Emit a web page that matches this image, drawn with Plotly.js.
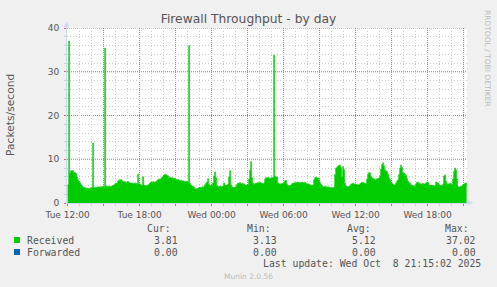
<!DOCTYPE html>
<html>
<head>
<meta charset="utf-8">
<script src="https://cdn.plot.ly/plotly-3.0.1.min.js"></script>
<style>
html,body{margin:0;padding:0;background:#F0F0F0;}
#chart{width:497px;height:287px;}
</style>
</head>
<body>
<div id="chart"></div>
<script>
// ---------- data ----------
const chartTitle = 'Firewall Throughput - by day';
const yTitle = 'Packets/second';
const startTime = '2025-10-07 12:00';   // first sample
const stepMinutes = 5;                   // sample spacing
const xRange = ['2025-10-07 11:57', '2025-10-08 21:17'];
const yRange = [0, 40];

// Received packets/second, one value per 5-minute sample (Tue 12:00 .. Wed 21:15)
const received = [
  4.2, 37.02, 6.8, 7.4, 7.3, 7.4, 7.0, 6.9, 6.8, 6.0, 5.4, 4.9, 4.6, 4.3, 3.9, 3.7, 3.6, 3.5, 3.4, 3.4,
  3.3, 3.4, 3.3, 3.5, 3.6, 13.7, 3.5, 3.6, 3.5, 3.6, 3.7, 3.6, 3.7, 3.6, 3.8, 3.7, 3.6, 35.4, 3.9, 3.8,
  3.8, 3.9, 3.7, 3.8, 3.9, 4.0, 4.1, 4.4, 4.6, 4.5, 5.0, 5.3, 5.2, 5.4, 5.1, 4.9, 4.8, 4.9, 4.7, 4.8,
  4.9, 4.7, 4.6, 4.5, 4.6, 4.5, 4.4, 4.6, 4.5, 4.3, 6.6, 4.4, 4.3, 4.2, 4.0, 6.0, 4.1, 4.0, 3.9, 4.0,
  4.1, 4.3, 4.6, 4.8, 4.7, 4.9, 4.8, 4.7, 4.9, 5.1, 5.3, 5.5, 5.4, 5.6, 5.9, 6.1, 6.4, 6.6, 6.5, 6.3,
  6.2, 5.8, 5.9, 5.7, 5.8, 5.6, 5.7, 5.5, 5.4, 5.3, 5.4, 5.2, 5.1, 5.2, 5.0, 5.1, 4.9, 5.0, 4.9, 5.0,
  4.8, 36.0, 4.5, 4.1, 3.9, 3.8, 3.6, 3.4, 3.13, 3.3, 3.4, 3.5, 3.6, 3.5, 3.7, 3.6, 3.8, 4.2, 4.5, 4.8,
  5.6, 4.3, 4.0, 4.1, 4.0, 4.6, 6.2, 7.1, 5.8, 4.0, 3.8, 3.7, 3.9, 3.8, 3.7, 3.9, 4.6, 4.2, 4.0, 4.1,
  4.3, 6.0, 7.4, 4.2, 3.7, 3.6, 3.5, 3.6, 3.8, 4.3, 4.6, 4.5, 4.7, 4.4, 4.5, 4.3, 4.4, 4.1, 4.0, 4.1,
  4.2, 5.5, 7.5, 9.5, 5.8, 4.5, 4.3, 4.4, 4.6, 4.5, 4.7, 4.6, 4.8, 4.6, 4.5, 4.4, 4.6, 5.5, 5.8, 5.7,
  5.9, 5.8, 5.6, 5.7, 5.9, 5.8, 33.8, 6.1, 6.0, 5.9, 4.6, 4.4, 4.3, 4.4, 4.5, 4.4, 4.6, 5.1, 5.2, 4.3,
  4.0, 3.9, 4.0, 4.1, 4.4, 4.5, 4.6, 4.7, 4.6, 4.8, 4.7, 4.8, 4.6, 4.7, 4.8, 4.7, 4.6, 4.8, 4.5, 4.4,
  4.4, 4.3, 4.2, 4.0, 4.1, 4.0, 5.3, 5.8, 5.9, 5.7, 5.8, 5.4, 4.6, 4.3, 4.0, 3.8, 3.7, 3.8, 3.7, 3.6,
  3.7, 3.6, 3.5, 3.6, 3.5, 3.5, 3.6, 6.5, 8.0, 8.2, 8.4, 8.7, 8.6, 8.1, 6.0, 8.3, 7.6, 4.5, 3.9, 3.8,
  3.7, 3.8, 3.9, 4.3, 4.4, 4.5, 4.3, 4.4, 4.2, 4.3, 4.1, 4.2, 4.4, 4.6, 4.7, 4.8, 4.6, 4.5, 4.4, 5.5,
  6.6, 7.0, 6.9, 6.2, 5.8, 5.6, 5.5, 5.3, 5.4, 5.6, 5.5, 5.7, 6.2, 7.8, 8.8, 9.2, 8.5, 7.6, 7.4, 7.2,
  6.6, 5.8, 5.4, 4.8, 4.5, 4.3, 4.1, 4.2, 4.6, 5.0, 5.3, 6.5, 8.0, 8.7, 8.1, 7.0, 6.8, 6.6, 6.3, 5.6,
  5.0, 4.7, 4.5, 4.2, 4.0, 3.9, 4.0, 3.8, 4.4, 4.8, 4.7, 4.6, 4.4, 4.3, 4.4, 4.5, 4.3, 4.4, 4.6, 4.8,
  4.7, 4.2, 4.0, 4.1, 4.0, 4.1, 3.9, 4.0, 4.8, 4.7, 4.6, 4.2, 4.0, 4.1, 3.9, 4.3, 6.2, 6.4, 5.0, 4.3,
  4.4, 4.3, 4.5, 4.4, 4.2, 5.5, 7.2, 8.0, 7.6, 5.5, 3.8, 3.6, 3.7, 3.8, 3.9, 4.2, 4.3, 4.5, 4.6, 3.81
];
// Forwarded packets/second: zero throughout
const forwarded = received.map(() => 0);

// x ticks (major grid every 3h, labels every 6h)
const xTickVals = ['2025-10-07 12:00','2025-10-07 15:00','2025-10-07 18:00','2025-10-07 21:00',
  '2025-10-08 00:00','2025-10-08 03:00','2025-10-08 06:00','2025-10-08 09:00',
  '2025-10-08 12:00','2025-10-08 15:00','2025-10-08 18:00','2025-10-08 21:00'];
const xTickText = ['Tue 12:00','','Tue 18:00','','Wed 00:00','','Wed 06:00','','Wed 12:00','','Wed 18:00',''];
const yTickVals = [0, 10, 20, 30, 40];
const yTickText = ['0', '10', '20', '30', '40'];
const yMinorVals = [2, 4, 6, 8, 12, 14, 16, 18, 22, 24, 26, 28, 32, 34, 36, 38];

// legend table
const seriesNames = ['Received', 'Forwarded'];
const seriesColors = ['#00CC00', '#0066B3'];
const statHeaders = ['Cur:', 'Min:', 'Avg:', 'Max:'];
const statReceived = ['3.81', '3.13', '5.12', '37.02'];
const statForwarded = ['0.00', '0.00', '0.00', '0.00'];
const lastUpdate = 'Last update: Wed Oct  8 21:15:02 2025';
const footer = 'Munin 2.0.56';
const sideText = 'RRDTOOL / TOBI OETIKER';

// ---------- build x times ----------
function pad(n){ return (n < 10 ? '0' : '') + n; }
function fmt(ms){
  const d = new Date(ms);
  return d.getUTCFullYear()+'-'+pad(d.getUTCMonth()+1)+'-'+pad(d.getUTCDate())+' '+pad(d.getUTCHours())+':'+pad(d.getUTCMinutes());
}
function parse(s){
  const p = s.split(/[- :]/).map(Number);
  return Date.UTC(p[0], p[1]-1, p[2], p[3], p[4]);
}
const base = parse(startTime);
const times = received.map((_, i) => fmt(base + i*stepMinutes*60000));
// minor (hourly) grid positions, skipping the 3-hourly major ones
const xMinorVals = [];
for (let h = 1; h <= 33; h++) if (h % 3 !== 0) xMinorVals.push(fmt(base + h*3600000));

// ---------- layout helpers (page pixels -> paper coords) ----------
const L = 67, R = 30, T = 28, B = 84, W = 497, H = 287;
const PW = W - L - R, PH = H - T - B;
const px = x => (x - L) / PW;
const py = y => (H - B - y) / PH;

const fontSans = 'DejaVu Sans, Verdana, sans-serif';
const fontMono = 'DejaVu Sans Mono, monospace';
const txtColor = '#555555';
const majorGrid = 'rgb(222,95,95)';
const minorGrid = 'rgb(205,205,205)';
const axisColor = '#CFD6F8';
const dots = '1px,2px';
const majorDots = '1px,1px';

const traces = [
  { x: times, y: received, name: seriesNames[0], type: 'scatter', mode: 'lines',
    line: { shape: 'hv', width: 0.5, color: seriesColors[0] },
    fill: 'tozeroy', fillcolor: seriesColors[0], hoverinfo: 'skip' },
  { x: times, y: forwarded, name: seriesNames[1], type: 'scatter', mode: 'lines',
    line: { shape: 'hv', width: 0, color: seriesColors[1] },
    fill: 'tozeroy', fillcolor: seriesColors[1], hoverinfo: 'skip' }
];

const annotations = [];
function ann(text, x, y, xanchor, font, extra){
  annotations.push(Object.assign({ text, x: px(x), y: py(y), xref: 'paper', yref: 'paper',
    xanchor, yanchor: 'middle', showarrow: false, font, borderpad: 0 }, extra || {}));
}
const legFont = { family: fontMono, size: 9.8, color: txtColor };
const colRight = [172, 272, 372, 470];
const valRight = [179, 278, 377, 477];
statHeaders.forEach((h, i) => ann(h, colRight[i], 228, 'right', legFont));
ann(seriesNames[0], 26, 240, 'left', legFont);
ann(seriesNames[1], 26, 252, 'left', legFont);
statReceived.forEach((v, i) => ann(v, valRight[i], 240, 'right', legFont));
statForwarded.forEach((v, i) => ann(v, valRight[i], 252, 'right', legFont));
ann(lastUpdate, 482, 263, 'right', legFont);
ann(footer, 248, 276, 'center', { family: fontSans, size: 7.5, color: '#BBBBBB' });
ann(sideText, 487, 58, 'center', { family: fontSans, size: 7.5, color: '#BBBBBB' }, { textangle: 90 });
ann(yTitle, 10, 115, 'center', { family: fontSans, size: 10.7, color: txtColor }, { textangle: -90 });

const shapes = [
  // legend swatches
  { type: 'rect', xref: 'paper', yref: 'paper', x0: px(14), x1: px(20), y0: py(243), y1: py(237),
    fillcolor: seriesColors[0], line: { width: 0 } },
  { type: 'rect', xref: 'paper', yref: 'paper', x0: px(14), x1: px(20), y0: py(255), y1: py(249),
    fillcolor: seriesColors[1], line: { width: 0 } },
  // axis arrows
  { type: 'path', xref: 'paper', yref: 'paper',
    path: `M ${px(64)} ${py(26.7)} L ${px(66.7)} ${py(21.5)} L ${px(69.4)} ${py(26.7)} Z`,
    fillcolor: axisColor, line: { width: 0 } },
  { type: 'line', xref: 'paper', yref: 'paper', x0: px(66.7), x1: px(66.7), y0: 1, y1: py(26),
    line: { color: axisColor, width: 1 } },
  { type: 'path', xref: 'paper', yref: 'paper',
    path: `M ${px(467.5)} ${py(200.2)} L ${px(473.5)} ${py(202.7)} L ${px(467.5)} ${py(205.2)} Z`,
    fillcolor: axisColor, line: { width: 0 } }
];
// major (red dotted) grid lines at the major tick positions
xTickVals.slice(1).forEach(v => shapes.push({ type: 'line', xref: 'x', yref: 'y', x0: v, x1: v, y0: yRange[0], y1: yRange[1],
  layer: 'below', line: { color: majorGrid, width: 1, dash: majorDots } }));
yTickVals.slice(1).forEach(v => shapes.push({ type: 'line', xref: 'x', yref: 'y', x0: xRange[0], x1: xRange[1], y0: v, y1: v,
  layer: 'below', line: { color: majorGrid, width: 1, dash: majorDots } }));

const layout = {
  width: W, height: H,
  margin: { l: L, r: R, t: T, b: B, pad: 0 },
  paper_bgcolor: '#F0F0F0', plot_bgcolor: '#FFFFFF',
  showlegend: false,
  title: { text: chartTitle, x: 0.5, xref: 'container', xanchor: 'center',
    y: 1 - 18.5 / H, yref: 'container', yanchor: 'middle',
    font: { family: fontSans, size: 12.3, color: txtColor } },
  xaxis: {
    type: 'date', range: xRange, fixedrange: true,
    tickmode: 'array', tickvals: xTickVals, ticktext: xTickText,
    tickfont: { family: fontSans, size: 9, color: txtColor },
    ticks: 'outside', ticklen: 2, tickcolor: majorGrid,
    showgrid: false,
    minor: { tickmode: 'array', tickvals: xMinorVals,
      showgrid: true, gridcolor: minorGrid, griddash: dots,
      ticks: 'outside', ticklen: 2, tickcolor: minorGrid },
    showline: true, linecolor: axisColor, linewidth: 1,
    zeroline: false, layer: 'above traces', ticklabelstandoff: 1
  },
  yaxis: {
    range: yRange, fixedrange: true,
    tickmode: 'array', tickvals: yTickVals, ticktext: yTickText,
    tickfont: { family: fontSans, size: 9, color: txtColor },
    ticks: 'outside', ticklen: 2, tickcolor: majorGrid,
    showgrid: false,
    minor: { tickmode: 'array', tickvals: yMinorVals,
      showgrid: true, gridcolor: minorGrid, griddash: dots,
      ticks: 'outside', ticklen: 2, tickcolor: minorGrid },
    showline: true, linecolor: axisColor, linewidth: 1,
    zeroline: false, layer: 'above traces', ticklabelstandoff: 3
  },
  annotations, shapes
};

Plotly.newPlot('chart', traces, layout, { staticPlot: true, displayModeBar: false });
</script>
</body>
</html>
